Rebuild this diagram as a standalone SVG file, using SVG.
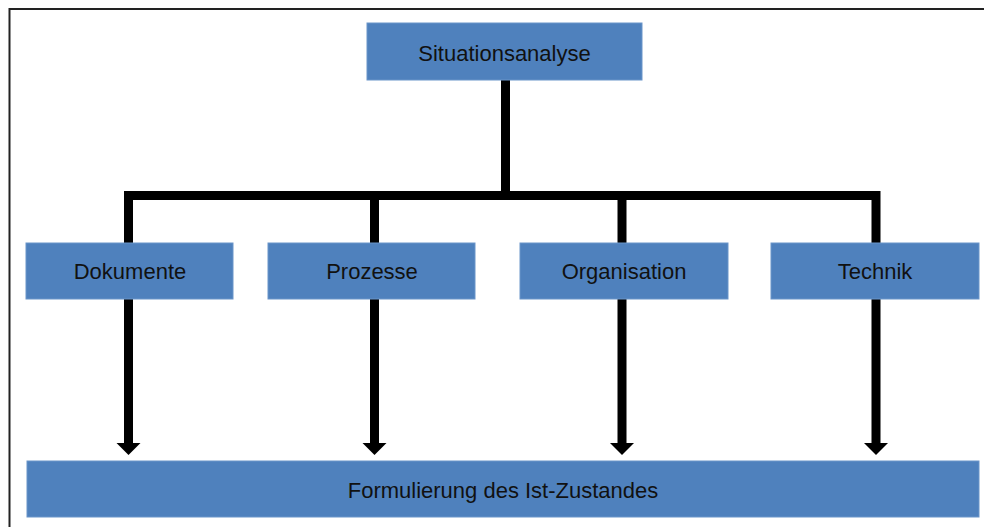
<svg xmlns="http://www.w3.org/2000/svg" width="984" height="527" viewBox="0 0 984 527">
  <defs>
    <style>
      .box { fill: #4F81BD; stroke: #6B95C9; stroke-width: 1; }
      .label { font-family: "Liberation Sans", Arial, sans-serif; font-size: 22px; fill: #111; text-anchor: middle; }
      .line { fill: none; stroke: #000; stroke-width: 9; stroke-linejoin: miter; stroke-linecap: butt; }
      .head { fill: #000; }
    </style>
  </defs>

  <rect x="0" y="0" width="984" height="527" fill="#fff"/>

  <!-- outer frame (left and top edges) -->
  <path d="M9.5,527 V9 H984" fill="none" stroke="#222" stroke-width="2"/>

  <!-- connectors -->
  <g id="connectors">
    <path class="line" d="M505.5,80 V195.5"/>
    <path class="line" d="M128.5,243 V195.5 H876 V243"/>
    <path class="line" d="M374.5,195.5 V243"/>
    <path class="line" d="M622,195.5 V243"/>

    <path class="line" d="M128.5,299 V444"/>
    <polygon class="head" points="116.5,443 140.5,443 128.5,455"/>
    <path class="line" d="M374.5,299 V444"/>
    <polygon class="head" points="362.5,443 386.5,443 374.5,455"/>
    <path class="line" d="M622,299 V444"/>
    <polygon class="head" points="610,443 634,443 622,455"/>
    <path class="line" d="M876,299 V444"/>
    <polygon class="head" points="864,443 888,443 876,455"/>
  </g>

  <!-- nodes -->
  <g id="situationsanalyse">
    <rect class="box" x="367" y="23" width="275" height="57"/>
    <text class="label" x="504.5" y="61">Situationsanalyse</text>
  </g>
  <g id="dokumente">
    <rect class="box" x="26" y="243" width="207" height="56"/>
    <text class="label" x="130" y="279">Dokumente</text>
  </g>
  <g id="prozesse">
    <rect class="box" x="268" y="243" width="207" height="56"/>
    <text class="label" x="372" y="279">Prozesse</text>
  </g>
  <g id="organisation">
    <rect class="box" x="520" y="243" width="208" height="56"/>
    <text class="label" x="624" y="279">Organisation</text>
  </g>
  <g id="technik">
    <rect class="box" x="771" y="243" width="208" height="56"/>
    <text class="label" x="875" y="279">Technik</text>
  </g>
  <g id="ist-zustand">
    <rect class="box" x="27" y="461" width="952" height="56"/>
    <text class="label" x="503" y="498">Formulierung des Ist-Zustandes</text>
  </g>
</svg>
